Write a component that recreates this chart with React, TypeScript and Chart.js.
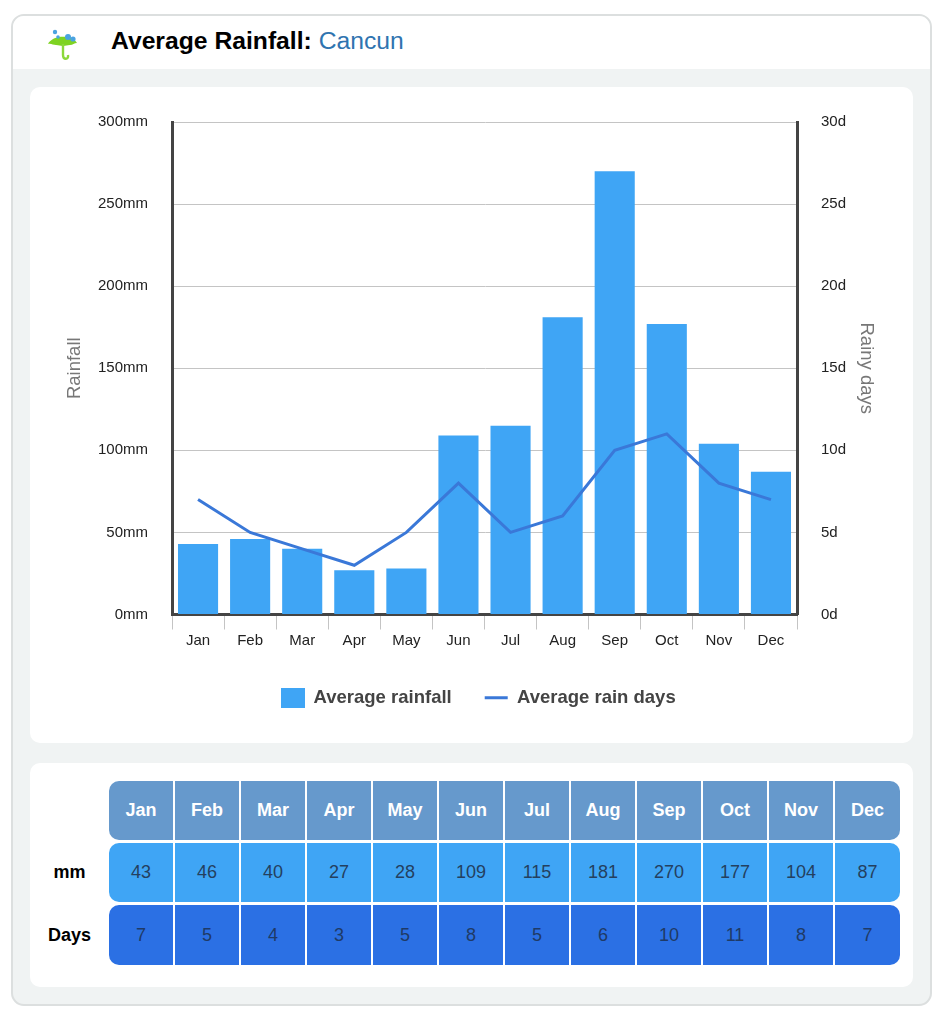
import React, { useEffect, useRef } from "react";
import { Chart, registerables } from "chart.js";

Chart.register(...registerables);

const months = ["Jan", "Feb", "Mar", "Apr", "May", "Jun", "Jul", "Aug", "Sep", "Oct", "Nov", "Dec"];
const rainfallMm = [43, 46, 40, 27, 28, 109, 115, 181, 270, 177, 104, 87];
const rainyDays = [7, 5, 4, 3, 5, 8, 5, 6, 10, 11, 8, 7];

const FONT = '"Liberation Sans", Arial, sans-serif';
const BAR = "#3fa5f5";
const LINE = "#3a78d8";
const CELL_W = 66;

function swatch(): HTMLCanvasElement {
  const c = document.createElement("canvas");
  c.width = 24;
  c.height = 20;
  const g = c.getContext("2d")!;
  g.fillStyle = BAR;
  g.fillRect(0, 0, 24, 20);
  return c;
}

const nudgeLegend = {
  id: "nudgeLegend",
  afterLayout(c: any) {
    c.legend.right += 16;
  },
};

function ChartPanel() {
  const ref = useRef<HTMLCanvasElement>(null);
  useEffect(() => {
    const sw = swatch();
    const chart = new Chart(ref.current!, {
      type: "bar",
      plugins: [nudgeLegend],
      data: {
        labels: months,
        datasets: [
          {
            type: "bar",
            label: "Average rainfall",
            data: rainfallMm,
            yAxisID: "y",
            backgroundColor: BAR,
            barPercentage: 0.77,
            categoryPercentage: 1,
            order: 2,
          },
          {
            type: "line",
            label: "Average rain days",
            data: rainyDays,
            yAxisID: "y2",
            borderColor: LINE,
            backgroundColor: LINE,
            borderWidth: 3,
            pointRadius: 0,
            tension: 0,
            order: 1,
          },
        ],
      } as any,
      options: {
        animation: false,
        responsive: false,
        layout: { padding: { left: 34, right: 36, top: 35, bottom: 26 } },
        plugins: {
          tooltip: { enabled: false },
          legend: {
            position: "bottom",
            reverse: true,
            labels: {
              usePointStyle: true,
              pointStyleWidth: 23,
              padding: 33,
              color: "#444",
              font: { family: FONT, size: 18.5, weight: "bold" },
              generateLabels(c: any) {
                const items = Chart.defaults.plugins.legend.labels.generateLabels(c);
                items.forEach((it: any) => {
                  it.pointStyle = it.datasetIndex === 0 ? sw : "line";
                });
                return items;
              },
            },
          },
        },
        scales: {
          x: {
            afterFit(s: any) { s.height = 41; },
            grid: { drawOnChartArea: false, tickLength: 15, tickColor: "#c4c4c4", tickWidth: 1 },
            border: { color: "#444", width: 3 },
            ticks: { color: "#222", padding: 2, maxRotation: 0, font: { family: FONT, size: 15 } },
          },
          y: {
            min: 0,
            max: 300,
            position: "left",
            afterFit(s: any) { s.width = 108; },
            title: { display: true, text: "Rainfall", color: "#777", padding: 0, font: { family: FONT, size: 18.5 } },
            grid: { drawTicks: false, color: "#c4c4c4", lineWidth: 1 },
            border: { color: "#444", width: 3 },
            ticks: {
              stepSize: 50,
              padding: 24,
              color: "#222",
              font: { family: FONT, size: 15 },
              callback: (v: any) => v + "mm",
            },
          },
          y2: {
            min: 0,
            max: 30,
            position: "right",
            afterFit(s: any) { s.width = 80; },
            title: { display: true, text: "Rainy days", color: "#777", padding: 0, font: { family: FONT, size: 18.5 } },
            grid: { display: false, drawTicks: false },
            border: { color: "#444", width: 3 },
            ticks: {
              stepSize: 5,
              padding: 24,
              color: "#222",
              font: { family: FONT, size: 15 },
              callback: (v: any) => v + "d",
            },
          },
        },
      } as any,
    });
    return () => chart.destroy();
  }, []);
  return <canvas ref={ref} width={883} height={656} style={{ display: "block" }} />;
}

function Row({ label, values, bg, color, bold, top, height }: any) {
  return (
    <div style={{ position: "absolute", left: 0, top, height, display: "flex" }}>
      <div style={{ width: 79, textAlign: "center", lineHeight: height + "px", fontWeight: 700, fontSize: 18, color: "#000" }}>{label}</div>
      <div style={{ display: "flex", borderRadius: 10, overflow: "hidden" }}>
        {values.map((v: any, i: number) => (
          <div
            key={i}
            style={{
              width: i === values.length - 1 ? CELL_W - 1 : CELL_W - 2,
              marginRight: i === values.length - 1 ? 0 : 2,
              background: bg,
              color,
              fontWeight: bold ? 700 : 400,
              fontSize: 18,
              textAlign: "center",
              lineHeight: height + "px",
            }}
          >
            {v}
          </div>
        ))}
      </div>
    </div>
  );
}

export default function App() {
  return (
    <div style={{ position: "absolute", left: 0, top: 0, width: 937, height: 1024, background: "#fff", fontFamily: FONT, overflow: "hidden" }}>
      <div style={{ position: "absolute", left: 11, top: 14, width: 921, height: 992, boxSizing: "border-box", border: "2px solid #dcdfdf", borderRadius: 13, background: "#f0f3f3", overflow: "hidden" }}>
        <div style={{ position: "absolute", left: 0, top: 0, right: 0, height: 53, background: "#fff" }} />
      </div>
      <svg style={{ position: "absolute", left: 46, top: 26 }} width="34" height="36" viewBox="0 0 34 36">
        <path d="M2 18 C6 9 26 8 31 17 C28 17 27 19 24 19 C21 19 20 20 17 20 C14 20 13 19 10 19 C7 19 5 17 2 18 Z" fill="#7ed321" />
        <circle cx="9" cy="6" r="2.2" fill="#4aa3e0" />
        <circle cx="22" cy="11" r="3" fill="#4aa3e0" />
        <circle cx="27" cy="13" r="2.6" fill="#4aa3e0" />
        <circle cx="12" cy="11" r="1.8" fill="#4aa3e0" />
        <path d="M17 18 V29 C17 34 23 34 22 29" fill="none" stroke="#8bd83a" strokeWidth="2.4" />
      </svg>
      <div style={{ position: "absolute", left: 111, top: 26, fontSize: 24.7, lineHeight: "30px", fontWeight: 700, color: "#000", whiteSpace: "nowrap" }}>
        Average Rainfall: <span style={{ fontWeight: 400, color: "#2f74b0" }}>Cancun</span>
      </div>
      <div style={{ position: "absolute", left: 30, top: 87, width: 883, height: 656, background: "#fff", borderRadius: 10, overflow: "hidden" }}>
        <ChartPanel />
      </div>
      <div style={{ position: "absolute", left: 30, top: 763, width: 883, height: 224, background: "#fff", borderRadius: 10 }}>
        <Row values={months} label="" bg="#6699cc" color="#fff" bold top={18} height={59} />
        <Row values={rainfallMm} label="mm" bg={BAR} color="#24405f" top={80} height={59} />
        <Row values={rainyDays} label="Days" bg="#2b70e4" color="#1f3a66" top={142} height={60} />
      </div>
    </div>
  );
}
